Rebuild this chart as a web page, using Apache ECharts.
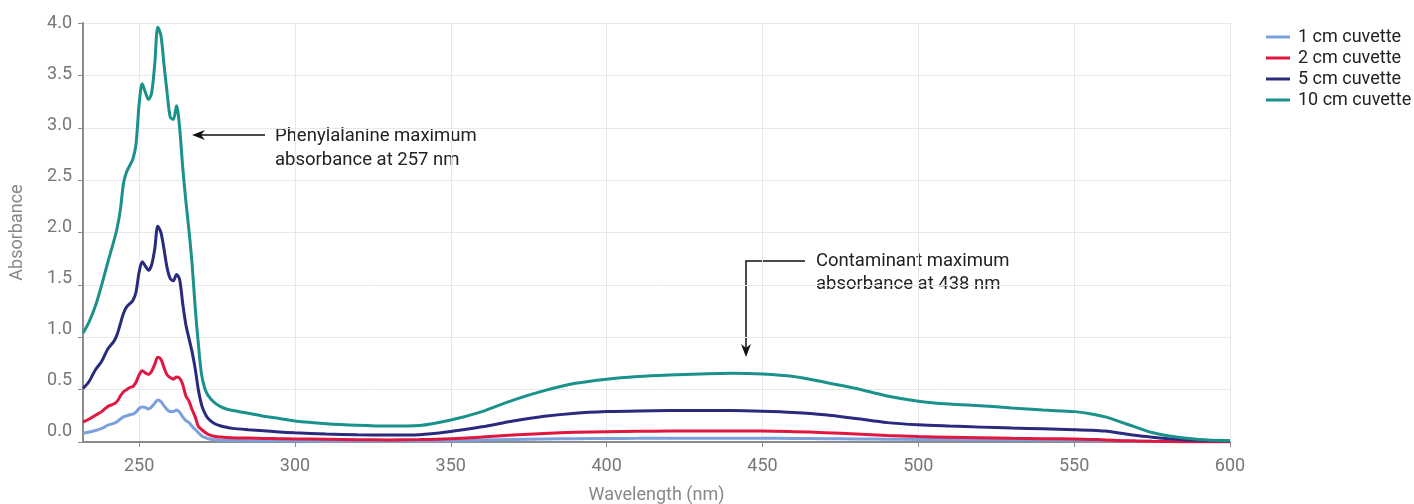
<!DOCTYPE html>
<html>
<head>
<meta charset="utf-8">
<script src="https://cdn.jsdelivr.net/npm/echarts@6/dist/echarts.min.js"></script>
<style>
  html, body { margin: 0; padding: 0; background: #fff; }
  #chart { width: 1414px; height: 504px; }
</style>
</head>
<body>
<div id="chart"></div>
<script>
// wavelength (nm), shared by every series
var wavelengths = [232, 234, 236, 238, 240, 242,
  243, 244, 245, 246, 247, 248, 249, 250, 251, 252,
  253, 254, 255, 256, 257, 258, 259, 260, 261, 262,
  263, 264, 265, 266, 267, 268, 269, 270, 271, 272,
  274, 276, 278, 280, 285, 290, 295, 300,
  310, 320, 330, 340,
  350, 360, 370, 380, 390, 400, 410, 420, 430, 440, 450,
  460, 470, 480, 490, 500, 510, 520, 530, 540, 550,
  555, 560, 565, 570, 575, 580, 590, 600];

// absorbance
var cm1 = [0.083, 0.095, 0.11, 0.13, 0.16, 0.18,
  0.195, 0.22, 0.24, 0.25, 0.26, 0.265, 0.285, 0.32, 0.335, 0.33,
  0.315, 0.335, 0.37, 0.40, 0.385, 0.345, 0.31, 0.29, 0.29, 0.305,
  0.285, 0.24, 0.205, 0.185, 0.15, 0.12, 0.09, 0.06, 0.045, 0.033,
  0.022, 0.017, 0.015, 0.014, 0.013, 0.012, 0.011, 0.011,
  0.010, 0.009, 0.009, 0.010,
  0.013, 0.018, 0.024, 0.029, 0.032, 0.034, 0.035, 0.036, 0.036, 0.036, 0.035,
  0.034, 0.031, 0.029, 0.027, 0.025, 0.023, 0.021, 0.020, 0.019, 0.018,
  0.017, 0.015, 0.012, 0.009, 0.006, 0.004, 0.003, 0.003];

var cm2 = [0.19, 0.22, 0.255, 0.29, 0.34, 0.365,
  0.39, 0.44, 0.48, 0.50, 0.52, 0.53, 0.57, 0.64, 0.68, 0.66,
  0.645, 0.675, 0.74, 0.81, 0.79, 0.71, 0.64, 0.615, 0.60, 0.62,
  0.61, 0.55, 0.44, 0.39, 0.31, 0.24, 0.15, 0.12, 0.095, 0.075,
  0.055, 0.047, 0.042, 0.040, 0.037, 0.034, 0.031, 0.029,
  0.026, 0.022, 0.020, 0.023,
  0.031, 0.047, 0.066, 0.082, 0.092, 0.098, 0.102, 0.104, 0.105, 0.105, 0.105,
  0.099, 0.089, 0.076, 0.062, 0.052, 0.046, 0.041, 0.036, 0.032, 0.028,
  0.025, 0.020, 0.013, 0.009, 0.006, 0.004, 0.003, 0.003];

var cm5 = [0.51, 0.58, 0.69, 0.77, 0.89, 0.965,
  1.03, 1.13, 1.23, 1.29, 1.32, 1.35, 1.43, 1.62, 1.72, 1.68,
  1.64, 1.69, 1.84, 2.06, 2.00, 1.84, 1.66, 1.56, 1.54, 1.60,
  1.55, 1.32, 1.12, 0.99, 0.86, 0.70, 0.50, 0.36, 0.28, 0.23,
  0.18, 0.155, 0.14, 0.13, 0.118, 0.108, 0.096, 0.088,
  0.076, 0.070, 0.067, 0.070,
  0.10, 0.145, 0.20, 0.245, 0.275, 0.29, 0.297, 0.30, 0.30, 0.30, 0.294,
  0.282, 0.26, 0.224, 0.185, 0.164, 0.152, 0.142, 0.133, 0.126, 0.118,
  0.113, 0.104, 0.083, 0.062, 0.046, 0.032, 0.016, 0.010];

var cm10 = [1.04, 1.15, 1.30, 1.50, 1.72, 1.93,
  2.05, 2.22, 2.47, 2.58, 2.64, 2.70, 2.84, 3.22, 3.42, 3.34,
  3.27, 3.33, 3.60, 3.96, 3.88, 3.60, 3.33, 3.10, 3.08, 3.21,
  3.00, 2.62, 2.30, 2.02, 1.70, 1.28, 0.94, 0.65, 0.52, 0.45,
  0.38, 0.34, 0.315, 0.30, 0.275, 0.245, 0.225, 0.20,
  0.175, 0.16, 0.152, 0.158,
  0.21, 0.29, 0.40, 0.49, 0.56, 0.60, 0.625, 0.64, 0.65, 0.657, 0.65,
  0.625, 0.57, 0.51, 0.44, 0.39, 0.362, 0.346, 0.325, 0.305, 0.29,
  0.27, 0.24, 0.19, 0.14, 0.09, 0.06, 0.025, 0.012];

var names = ['1 cm cuvette', '2 cm cuvette', '5 cm cuvette', '10 cm cuvette'];
var colors = ['#7ba0dc', '#e0183f', '#2a2a7e', '#1a918a'];
var yTickLabels = [0, 0.5, 1, 1.5, 2, 2.5, 3, 3.5, 4];

function pairs(vals) {
  var out = [];
  for (var i = 0; i < wavelengths.length; i++) {
    out.push([wavelengths[i], vals[i]]);
  }
  return out;
}

var font = 'Roboto, "Noto Sans", sans-serif';
var myChart = echarts.init(document.getElementById('chart'), null, { renderer: 'canvas' });

var allSeries = [cm1, cm2, cm5, cm10];
var series = [];
for (var i = 0; i < allSeries.length; i++) {
  series.push({
    name: names[i],
    type: 'line',
    yAxisIndex: 0,
    data: pairs(allSeries[i]),
    showSymbol: false,
    smooth: 0.3,
    lineStyle: { width: 3, color: colors[i] },
    itemStyle: { color: colors[i] }
  });
}

var noteFont = '18.5px ' + font;

var option = {
  animation: false,
  backgroundColor: '#fff',
  textStyle: { fontFamily: font },
  grid: { left: 83, right: 184, top: 23, bottom: 62, containLabel: false, outerBoundsMode: 'none' },
  legend: {
    data: names,
    orient: 'vertical',
    left: 1261,
    top: 23,
    icon: 'rect',
    itemWidth: 24,
    itemHeight: 3,
    itemGap: 3,
    textStyle: { fontSize: 18, color: '#222', lineHeight: 18, fontFamily: font, padding: [0, 0, 0, 3] }
  },
  xAxis: {
    type: 'value',
    min: 232,
    max: 600,
    splitNumber: 8,
    name: 'Wavelength (nm)',
    nameLocation: 'middle',
    nameGap: 44,
    nameTextStyle: { fontSize: 18, color: '#888' },
    axisLine: { lineStyle: { color: '#8c8c8c', width: 2 } },
    axisTick: { length: 5, lineStyle: { color: '#8c8c8c' } },
    axisLabel: { showMinLabel: false, fontSize: 18, color: '#777', margin: 15 },
    splitLine: { show: true, lineStyle: { color: '#e8e8e8' } }
  },
  yAxis: [{
    // data axis: line, ticks, grid lines
    type: 'value',
    min: 0,
    max: 4,
    interval: 0.5,
    position: 'left',
    name: 'Absorbance',
    nameLocation: 'middle',
    nameGap: 57,
    nameTextStyle: { fontSize: 18, color: '#888' },
    axisLine: { show: true, lineStyle: { color: '#8c8c8c', width: 2 } },
    axisTick: { show: true, length: 5, lineStyle: { color: '#8c8c8c' } },
    axisLabel: { show: false },
    splitLine: { show: true, lineStyle: { color: '#e8e8e8' } }
  }, {
    // label axis: the tick labels sit a little tighter than the ticks
    type: 'value',
    min: -0.098,
    max: 4,
    position: 'left',
    offset: 0,
    axisLine: { show: false },
    axisTick: { show: false },
    splitLine: { show: false },
    axisLabel: {
      customValues: yTickLabels,
      fontSize: 18, color: '#777', margin: 11,
      formatter: function (v) { return v.toFixed(1); }
    }
  }],
  graphic: [
    // phenylalanine arrow
    { type: 'polyline', shape: { points: [[265, 135], [200, 135]] }, style: { stroke: '#111', lineWidth: 1.5 } },
    { type: 'polygon', shape: { points: [[192, 135], [205, 130], [201, 135], [205, 140]] }, style: { fill: '#111' } },
    { type: 'text', left: 275, top: 124, style: { text: 'Phenylalanine maximum\nabsorbance at 257 nm', lineHeight: 24, fill: '#222', font: noteFont } },
    // contaminant arrow
    { type: 'polyline', shape: { points: [[805, 261], [746, 261], [746, 349]] }, style: { stroke: '#111', lineWidth: 1.5 } },
    { type: 'polygon', shape: { points: [[746, 357], [741, 344], [746, 348], [751, 344]] }, style: { fill: '#111' } },
    { type: 'text', left: 816, top: 250, style: { text: 'Contaminant maximum\nabsorbance at 438 nm', lineHeight: 23, fill: '#222', font: noteFont } }
  ],
  series: series
};

myChart.setOption(option);
</script>
</body>
</html>
